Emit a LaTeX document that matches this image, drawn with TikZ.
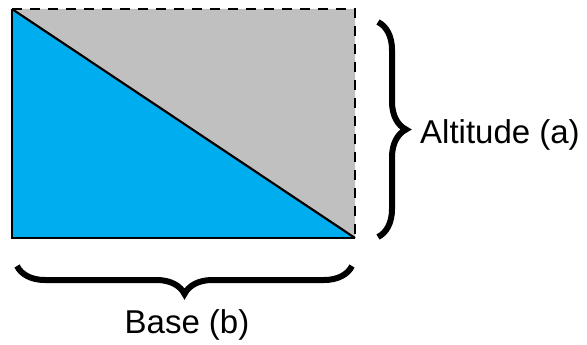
\documentclass[tikz,border=0pt]{standalone}
\usepackage{fontspec}
\setmainfont{Liberation Sans}
\usetikzlibrary{decorations.pathreplacing}
\definecolor{triblue}{RGB}{0,174,239}
\definecolor{trigray}{RGB}{192,192,192}
\tikzset{
  bracemark/.style={decorate, decoration={brace, amplitude=28pt}, line width=6pt},
  dimlabel/.style={inner sep=0pt, font=\fontsize{33}{38}\selectfont}
}

\begin{document}
\begin{tikzpicture}[x=1pt, y=-1pt]
    \useasboundingbox (0,0) rectangle (587,345);
    % corners of the rectangle
    \coordinate (tl) at (12,9);
    \coordinate (tr) at (355,9);
    \coordinate (br) at (355,238);
    \coordinate (bl) at (12,238);
    % halves
    \fill[trigray] (tl) -- (tr) -- (br) -- cycle;
    \fill[triblue] (tl) -- (br) -- (bl) -- cycle;
    \draw[line width=2.2pt] (tl) -- (br);
    \draw[line width=2.2pt] (tl) -- (bl) -- (br);
    \draw[line width=2.2pt, dash pattern=on 10pt off 8pt] (tl) -- (tr) -- (br);
    % braces
    \coordinate (ra) at (378,22);
    \coordinate (rb) at (378,237);
    \draw[bracemark] (ra) -- (rb);
    \coordinate (ba) at (352,266);
    \coordinate (bb) at (17,266);
    \draw[bracemark] (ba) -- (bb);
    % labels
    \node[dimlabel, anchor=base west] (alt) at (420,143) {Altitude (a)};
    \node[dimlabel, anchor=base] (base) at (187,333) {Base (b)};
\end{tikzpicture}
\end{document}
